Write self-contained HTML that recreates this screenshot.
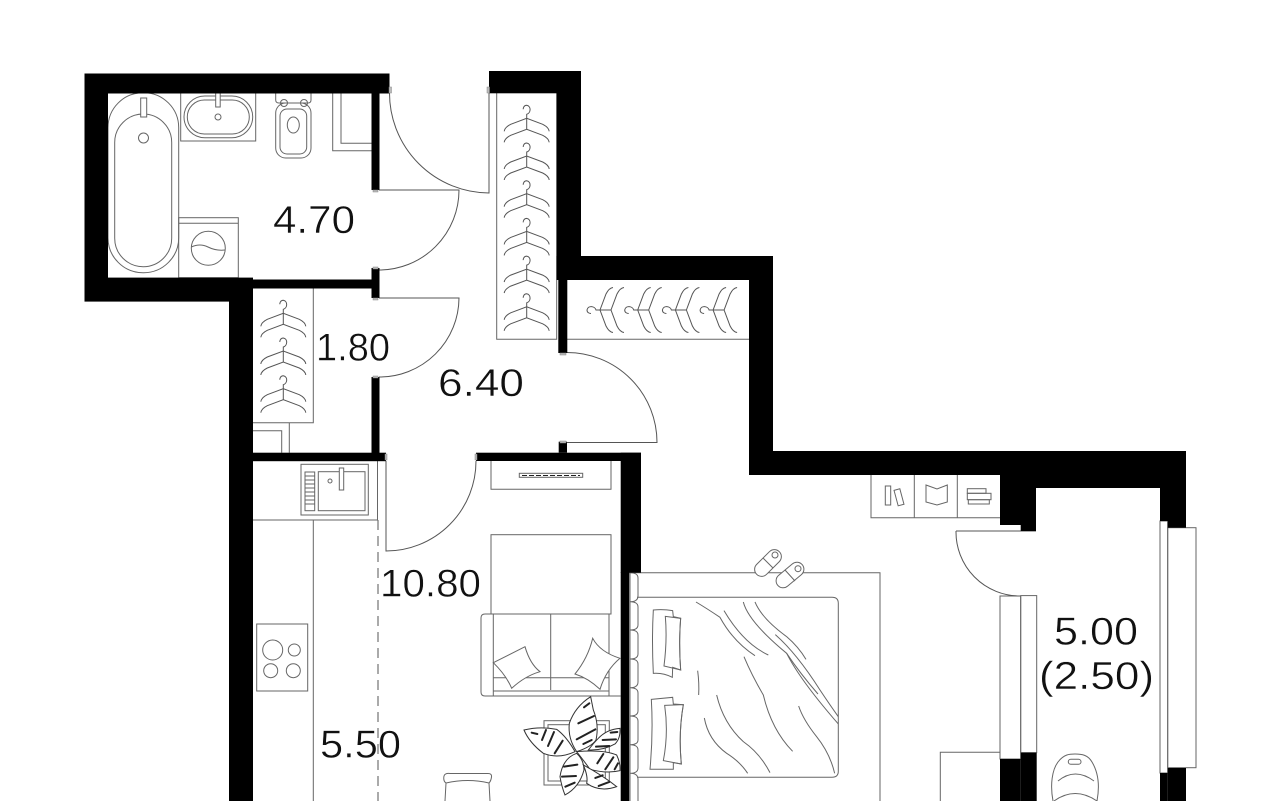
<!DOCTYPE html>
<html>
<head>
<meta charset="utf-8">
<style>
html,body{margin:0;padding:0;background:#fff;width:1280px;height:801px;overflow:hidden}
svg{display:block}
text{font-family:"Liberation Sans",sans-serif;font-size:39px;fill:#111;stroke:#fff;stroke-width:.45;paint-order:normal}
</style>
</head>
<body>
<svg width="1280" height="801" viewBox="0 0 1280 801" xmlns="http://www.w3.org/2000/svg">
<defs>
<g id="h" fill="none" stroke="#555" stroke-width="1">
<path d="M0 11V0V-4C4-5 5-12 0-13C-3-13-3.5-10-3.5-9"/>
<path d="M-22.5 13Q-22 9-16 6L0 0L16 6Q22 9 22.5 13"/>
<path d="M-22.5 24Q-22 20-16 17L0 11L16 17Q22 20 22.5 24"/>
</g>
</defs>

<g fill="none" stroke="#666" stroke-width="1">
<!-- bath -->
<rect x="108" y="92.7" width="70.7" height="180" rx="35"/>
<rect x="114.7" y="114" width="57" height="152.7" rx="28.5"/>
<rect x="140.7" y="98" width="6" height="19" fill="#fff"/>
<circle cx="143.5" cy="138" r="5"/>
<!-- basin -->
<rect x="180.7" y="93" width="75" height="48"/>
<rect x="184" y="96" width="68.7" height="41.7" rx="20.8"/>
<rect x="187.3" y="100" width="62" height="34" rx="17"/>
<rect x="215.7" y="93" width="4.5" height="14" fill="#fff"/>
<circle cx="218" cy="117" r="3"/>
<!-- wc -->
<path d="M275.7 93V100Q275.7 103 279 103H308Q311 103 311 100V93"/>
<rect x="275.7" y="103" width="35.3" height="55" rx="10"/>
<rect x="280" y="109" width="26.7" height="45" rx="7"/>
<ellipse cx="293.3" cy="125" rx="6" ry="8"/>
<circle cx="284" cy="103" r="3.5"/><circle cx="304" cy="103" r="3.5"/>
<!-- cabinet -->
<path d="M332.7 93V150.7H371.5M341 93V143.3H371.5"/>
<!-- washer -->
<rect x="178.7" y="217.7" width="59.6" height="60"/>
<path d="M178.7 223.3H238.3"/>
<circle cx="208.3" cy="248.3" r="17"/>
<path d="M191.3 247Q200 243 208 247T225 250"/>
<!-- closet 1 -->
<path d="M496.7 93V339.3H556.7V93"/>
<!-- closet 2 -->
<path d="M567 339.3H749"/>
<!-- closet 3 -->
<path d="M253 422.7H313.3V288.5M289.3 422.7V452.7M253 430.7H281.7V452.7"/>
<!-- kitchen -->
<path d="M253 520H377.5M313.3 520V801M377.5 461V520"/>
<path d="M378 520V801" stroke-dasharray="10 6" stroke="#555"/>
<rect x="301" y="464.3" width="67.3" height="50.7"/>
<rect x="318.3" y="471.7" width="46.7" height="39"/>
<rect x="305" y="472" width="9.7" height="38.7"/>
<path d="M305 476H314.7M305 480H314.7M305 484H314.7M305 488H314.7M305 492H314.7M305 496H314.7M305 500H314.7M305 504H314.7"/>
<rect x="339.3" y="468" width="4.4" height="22" fill="#fff"/>
<circle cx="330" cy="481" r="2"/>
<rect x="256.7" y="624" width="51" height="67"/>
<circle cx="272.7" cy="650" r="10"/><circle cx="294.3" cy="650" r="6"/>
<circle cx="270.7" cy="670.7" r="7"/><circle cx="293.3" cy="670.7" r="7"/>
<!-- tv -->
<path d="M491 461V489.3H611V461"/>
<rect x="519.3" y="473.3" width="63.4" height="4"/>
<path d="M522 475.5H580" stroke="#222" stroke-dasharray="5 2"/>
<!-- sofa -->
<rect x="491" y="534.7" width="120" height="79.3"/>
<path d="M493.3 614H609M620.7 696H485Q481 696 481 692V618Q481 614 485 614H493.3V696M609 614V696M550.7 614V690M493.3 677.7H609M493.3 691H609"/>
<path d="M493.3 662.7L525 646.7Q530 664 540 671.7Q525 676 511.7 688.3Q506 675 493.3 662.7Z" fill="#fff"/>
<path d="M592.7 638.3Q600 652 620 658.3Q606 670 600 689.3Q588 678 575 674Q588 658 592.7 638.3Z" fill="#fff"/>
<!-- rug -->
<rect x="544" y="720.7" width="65.3" height="64.3"/>
<rect x="548" y="724.7" width="57.3" height="56.3"/>
<!-- chair -->
<path d="M445 801L446 783Q443 781 444 776Q445 773 450 773.5L488 773.5Q492 773.5 491.5 777Q491 781 489 783L490 801M446 783Q468 778 489 783"/>
<!-- bed -->
<path d="M629 572.7H880V801"/>
<path d="M637 597.3H832Q838.3 597.3 838.3 603.3V771.3Q838.3 777.3 832 777.3H637"/>
<path d="M630 572.7Q638 572.7 638 578V596Q638 601.7 630 601.7Q638 601.7 638 607V625Q638 630 630 630Q638 630 638 635V654Q638 659 630 659Q638 659 638 664V682Q638 687.7 630 687.7Q638 687.7 638 693V711Q638 716 630 716Q638 716 638 721V740Q638 744.7 630 744.7Q638 744.7 638 750V768Q638 773.3 630 773.3Q638 773.3 638 779V801"/>
<path d="M630 572V801"/>
<!-- book shelf -->
<path d="M871 475V517.7H1000M914.3 475V517.7M957.3 475V517.7"/>
<rect x="885.3" y="486" width="5.4" height="19"/>
<rect x="896" y="489.3" width="6" height="16" transform="rotate(-15 899 497.3)"/>
<path d="M926 485L937 489L947.3 485V502L937 505L926 502Z"/>
<rect x="967.3" y="488.7" width="18.7" height="4.6"/>
<rect x="967.3" y="493.3" width="23.7" height="6.4"/>
<rect x="968.3" y="499.7" width="21" height="4.3"/>
<!-- windows -->
<rect x="1000" y="596" width="20.7" height="163"/>
<rect x="1020.7" y="595.6" width="16" height="157"/>
<rect x="1160" y="521" width="7.7" height="252"/>
<rect x="1167.7" y="527.7" width="28.3" height="240"/>
<!-- table -->
<path d="M940.3 801V752.3H1000"/>
<!-- balcony chair -->
<path d="M1053 801C1050 785 1052 770 1058 762C1064 754 1070 754 1075 754C1082 754 1088 755 1092 762C1098 772 1100 785 1097 801"/>
<rect x="1068.3" y="759.3" width="12.7" height="5" rx="2.5"/>
<path d="M1058 781Q1075 767 1094 781M1054 801Q1075 786 1097 801"/>
</g>

<!-- slippers -->
<g fill="#fff" stroke="#666" stroke-width="1">
<rect x="752" y="556" width="32" height="14" rx="7" transform="rotate(-45 768 563)"/>
<circle cx="775" cy="555" r="3"/>
<path d="M763 558L773 568" fill="none"/>
<rect x="774" y="568" width="32" height="14" rx="7" transform="rotate(-40 790 575)"/>
<circle cx="798" cy="568.7" r="3"/>
<path d="M785 570L795 581" fill="none"/>
</g>

<!-- bed details -->
<g transform="translate(620 540) scale(.3333)" fill="none" stroke="#666" stroke-width="3">
<path d="M100 210Q130 207 158 212L160 230L182 235Q176 310 182 390L158 382L157 412Q130 398 100 400Q95 300 100 210Z"/>
<path d="M136 229L182 235Q176 310 182 390L132 378Q142 300 136 229Z"/>
<path d="M94 478L158 472L160 492L190 494Q175 580 184 672L160 668V688L90 688Q100 580 94 478Z"/>
<path d="M134 496L190 494Q175 580 184 672L130 662Q146 580 134 496Z"/>
<path d="M228 186Q260 205 300 232Q340 305 405 347"/>
<path d="M312 212Q370 310 445 345"/>
<path d="M370 186Q385 245 500 340Q540 400 594 462"/>
<path d="M405 186Q425 235 500 290Q535 320 558 358"/>
<path d="M466 284Q530 340 600 450Q630 495 655 530"/>
<path d="M500 340Q540 420 655 552"/>
<path d="M233 392Q238 430 236 465"/>
<path d="M372 350Q395 405 430 465Q455 570 518 634"/>
<path d="M290 465Q310 550 370 605Q420 640 450 698"/>
<path d="M253 534Q265 600 320 640Q360 665 383 700"/>
<path d="M536 498Q550 540 590 590Q630 640 644 700"/>
</g>

<!-- plant -->
<g transform="translate(520 690) scale(.3333)" fill="#fff" stroke="#333" stroke-width="3">
<path d="M212 20Q165 50 148 100Q143 145 170 185Q215 170 228 150Q238 105 220 60Z"/>
<path d="M12 120Q60 108 110 118Q140 140 165 185Q115 208 70 190Q28 158 12 120Z"/>
<path d="M300 115Q260 118 235 145Q220 160 205 180Q250 182 285 162Q302 145 300 115Z"/>
<path d="M170 185Q250 178 290 195Q302 220 300 242Q260 252 210 238Q190 210 170 185Z"/>
<path d="M170 190Q128 205 120 260Q125 290 135 315Q178 292 192 240Q192 210 170 190Z"/>
<path d="M190 225Q205 260 200 280Q240 308 290 290Q250 258 190 225Z"/>
<g fill="none" stroke="#222" stroke-width="6" stroke-linecap="round">
<path d="M208 40L192 52M222 78L175 100M226 118L170 148M215 150L190 162"/>
<path d="M35 128L52 132M78 120L66 150M102 126L84 168M128 152L104 190"/>
<path d="M272 128L292 126M248 150L288 148M228 170L268 168"/>
<path d="M250 192L232 220M280 202L256 238M294 220L284 238"/>
<path d="M132 230L172 224M126 260L168 258M136 290L164 278"/>
<path d="M226 264L248 256M236 288L268 276"/>
</g>
</g>

<!-- hangers -->
<use href="#h" x="526.7" y="118.3"/><use href="#h" x="526.7" y="156"/><use href="#h" x="526.7" y="193.7"/><use href="#h" x="526.7" y="231.4"/><use href="#h" x="526.7" y="269.1"/><use href="#h" x="526.7" y="306.8"/>
<use href="#h" x="283.3" y="313.3"/><use href="#h" x="283.3" y="351"/><use href="#h" x="283.3" y="388.7"/>
<use href="#h" transform="translate(600 310) rotate(-90)"/><use href="#h" transform="translate(637.7 310) rotate(-90)"/><use href="#h" transform="translate(675.4 310) rotate(-90)"/><use href="#h" transform="translate(713.1 310) rotate(-90)"/>

<!-- doors -->
<g fill="none" stroke="#555" stroke-width="1">
<path d="M389.5 93A100 100 0 0 0 489 193V93"/>
<path d="M379 190H459A80 80 0 0 1 379 270"/>
<path d="M379 298H459A79.5 79.5 0 0 1 379 377"/>
<path d="M567 352.5A90 90 0 0 1 657 442.5H567"/>
<path d="M476 461A90 90 0 0 1 386 551V461"/>
<path d="M956 531H1036M956 531A64 64 0 0 0 1020 596"/>
</g>

<!-- walls -->
<g fill="#000">
<rect x="84.5" y="73.5" width="305" height="20"/>
<rect x="84.5" y="73.5" width="23.5" height="228"/>
<rect x="84.5" y="277.6" width="168.5" height="24"/>
<rect x="229" y="278" width="24" height="523"/>
<rect x="253" y="279.5" width="122" height="9"/>
<rect x="371.5" y="93" width="8" height="97"/>
<rect x="371.5" y="268" width="8" height="30"/>
<rect x="371.5" y="377" width="8" height="76"/>
<rect x="253" y="452.7" width="133" height="8.5"/>
<rect x="476" y="452.7" width="165" height="8.3"/>
<rect x="620.7" y="452.7" width="20.3" height="120"/>
<rect x="620.7" y="572" width="8.5" height="229"/>
<rect x="558.7" y="441.7" width="8.3" height="11"/>
<rect x="489" y="71" width="92" height="22.3"/>
<rect x="556.7" y="71" width="24.3" height="209"/>
<rect x="556.7" y="256" width="216" height="24"/>
<rect x="558.3" y="280" width="9" height="73"/>
<rect x="749" y="256" width="24" height="219"/>
<rect x="749" y="451" width="437" height="24"/>
<rect x="1000" y="451" width="36" height="74"/>
<rect x="1020.7" y="451" width="15.3" height="80"/>
<rect x="1036" y="451" width="150" height="37"/>
<rect x="1160" y="451" width="26" height="70"/>
<rect x="1167.7" y="451" width="18.3" height="76.7"/>
<rect x="1000" y="759" width="20.7" height="42"/>
<rect x="1020.7" y="752.7" width="16" height="48.3"/>
<rect x="1160" y="773" width="7.7" height="28"/>
<rect x="1167.7" y="768" width="18.3" height="33"/>
</g>
<!-- hinges -->
<g fill="#bbb" stroke="#888" stroke-width=".5">
<rect x="389" y="87" width="2.5" height="6"/>
<rect x="487" y="87" width="2.5" height="6"/>
<rect x="373" y="190" width="5" height="2"/>
<rect x="373" y="267" width="5" height="2"/>
<rect x="373" y="298" width="5" height="2"/>
<rect x="373" y="376" width="5" height="2"/>
<rect x="560" y="353" width="6" height="2"/>
<rect x="560" y="441" width="6" height="2"/>
<rect x="385" y="454" width="2" height="6"/>
<rect x="475" y="454" width="2" height="6"/>
</g>

<!-- labels -->
<text x="273" y="233" textLength="82" lengthAdjust="spacingAndGlyphs">4.70</text>
<text x="316" y="360.7" textLength="74" lengthAdjust="spacingAndGlyphs">1.80</text>
<text x="438" y="396" textLength="86" lengthAdjust="spacingAndGlyphs">6.40</text>
<text x="380" y="596.7" textLength="101" lengthAdjust="spacingAndGlyphs">10.80</text>
<text x="320" y="757.3" textLength="81" lengthAdjust="spacingAndGlyphs">5.50</text>
<text x="1054" y="644.3" textLength="84" lengthAdjust="spacingAndGlyphs">5.00</text>
<text x="1039" y="689" textLength="115" lengthAdjust="spacingAndGlyphs">(2.50)</text>
</svg>
</body>
</html>
